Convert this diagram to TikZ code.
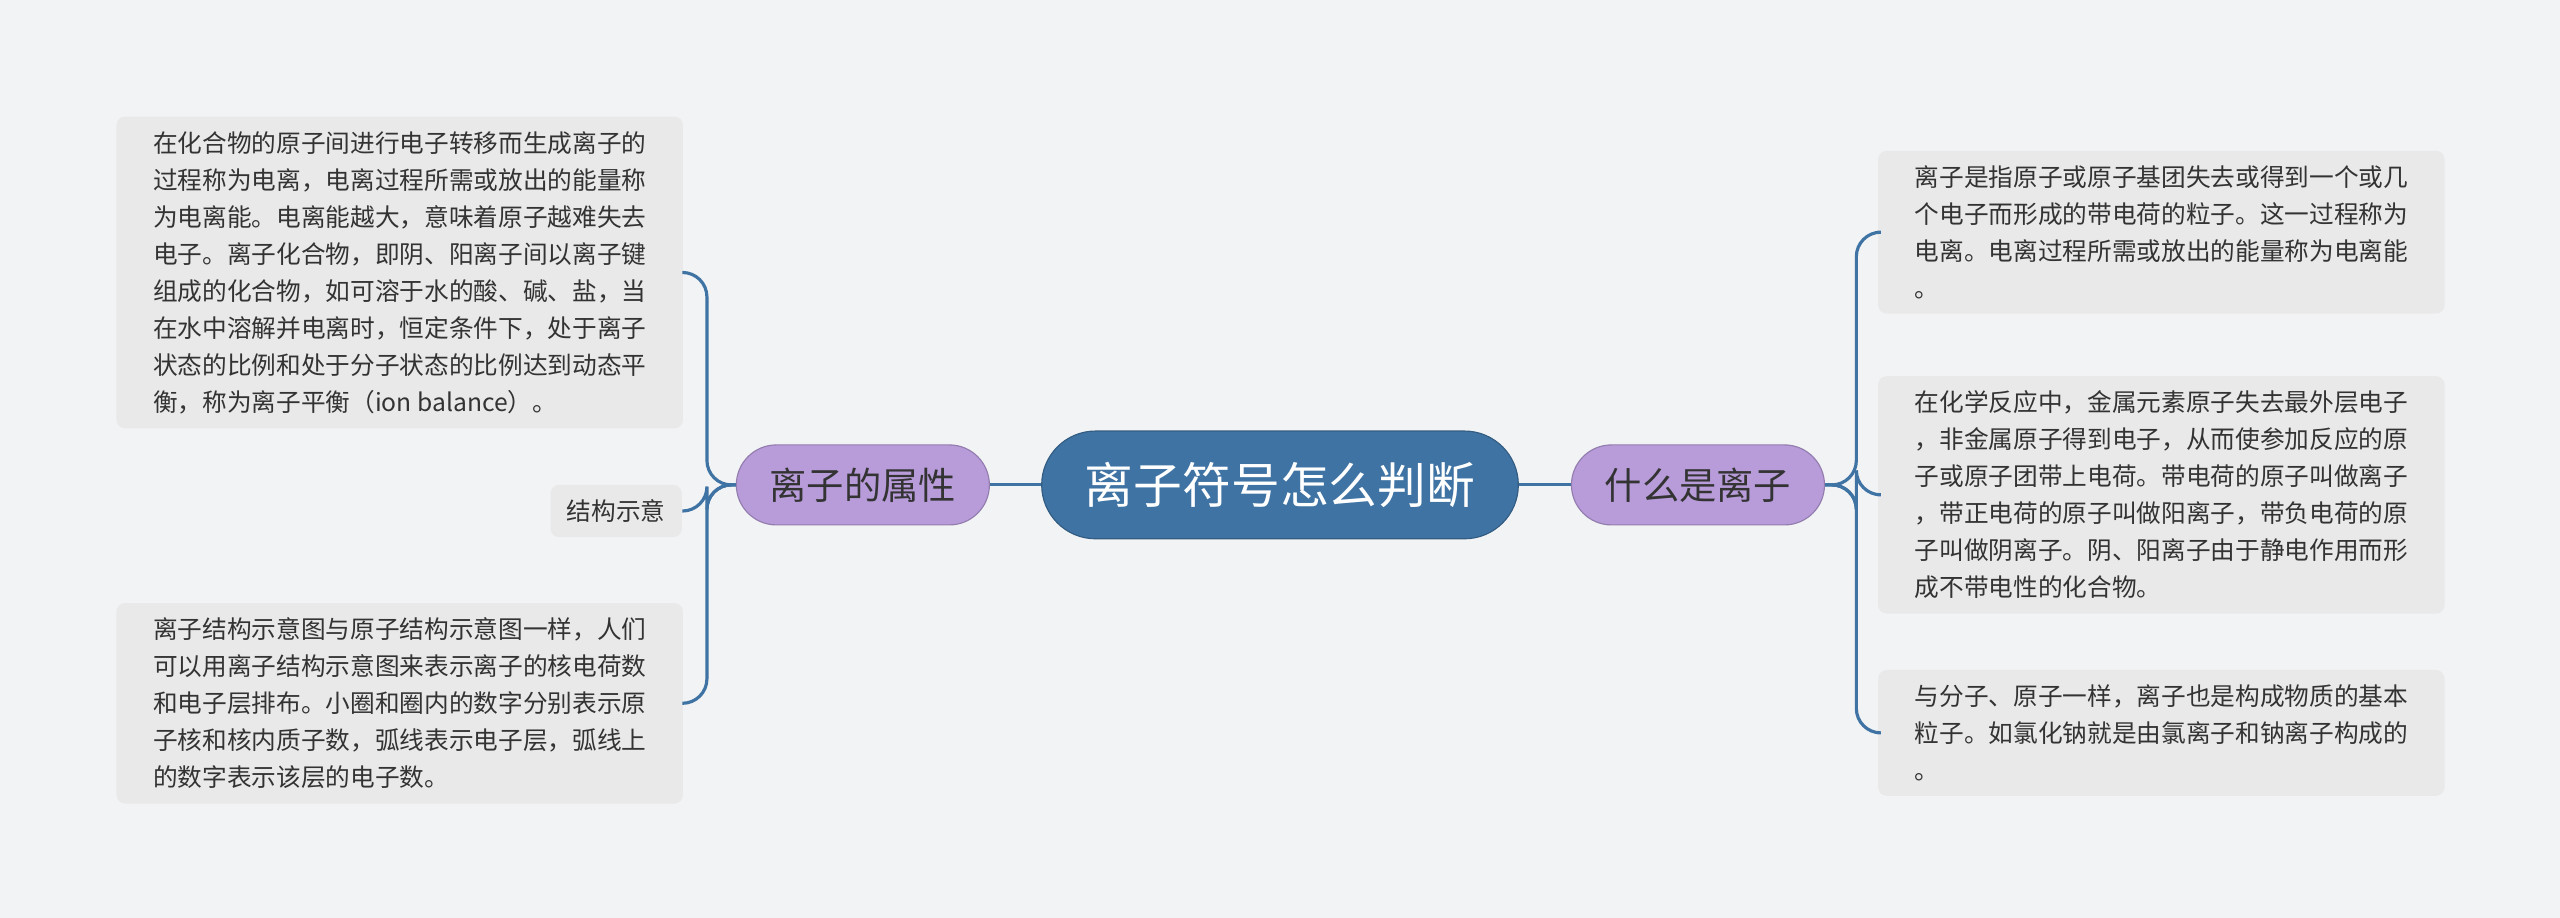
\documentclass[tikz,border=0pt]{standalone}
\usepackage{fontspec}
\newfontfamily\cjk{Noto Sans CJK SC}
\usetikzlibrary{positioning}
\definecolor{bgc}{HTML}{F2F3F5}
\definecolor{mainc}{HTML}{3F73A3}
\definecolor{subc}{HTML}{B89CDA}
\definecolor{leafc}{HTML}{E9E9EA}
\definecolor{txtc}{HTML}{333333}
\tikzset{
  root/.style={rounded corners=0.66cm, fill=mainc, draw=mainc!80!black, minimum width=5.84cm, minimum height=1.32cm, text=white, font=\cjk\fontsize{17}{20}\selectfont},
  topic/.style={rounded corners=0.49cm, fill=subc, draw=subc!80!black, minimum width=3.1cm, minimum height=0.98cm, text=txtc, font=\cjk\fontsize{13}{16}\selectfont},
  leaf/.style={rounded corners=3pt, fill=leafc, text=txtc, align=left, inner xsep=0.2cm, inner ysep=0.18cm, font=\cjk\fontsize{8.6}{12.9}\selectfont, anchor=north west},
  link/.style={mainc, line width=1.1pt, rounded corners=0.3cm}
}
\begin{document}
\begin{tikzpicture}[x=0.02cm, y=-0.02cm]
\fill[bgc] (0,0) rectangle (1568,562);
% centre and topics
\node[root] (root) at (784,297) {离子符号怎么判断};
\node[topic] (attr) at (528.5,297) {离子的属性};
\node[topic] (what) at (1040,297) {什么是离子};
\draw[link] (root) -- (attr);
\draw[link] (root) -- (what);
% right leaves
\node[leaf, minimum width=6.94cm] (r1) at (1150,92) {离子是指原子或原子基团失去或得到一个或几\\个电子而形成的带电荷的粒子。这一过程称为\\电离。电离过程所需或放出的能量称为电离能\\。};
\node[leaf, minimum width=6.94cm] (r2) at (1150,230) {在化学反应中，金属元素原子失去最外层电子\\，非金属原子得到电子，从而使参加反应的原\\子或原子团带上电荷。带电荷的原子叫做离子\\，带正电荷的原子叫做阳离子，带负电荷的原\\子叫做阴离子。阴、阳离子由于静电作用而形\\成不带电性的化合物。};
\node[leaf, minimum width=6.94cm] (r3) at (1150,410) {与分子、原子一样，离子也是构成物质的基本\\粒子。如氯化钠就是由氯离子和钠离子构成的\\。};
% left leaves
\node[leaf, minimum width=6.94cm] (l1) at (71,71) {在化合物的原子间进行电子转移而生成离子的\\过程称为电离，电离过程所需或放出的能量称\\为电离能。电离能越大，意味着原子越难失去\\电子。离子化合物，即阴、阳离子间以离子键\\组成的化合物，如可溶于水的酸、碱、盐，当\\在水中溶解并电离时，恒定条件下，处于离子\\状态的比例和处于分子状态的比例达到动态平\\衡，称为离子平衡（ion balance）。};
\node[leaf, anchor=east] (l2) at (418,313) {结构示意};
\node[leaf, minimum width=6.94cm] (l3) at (71,369) {离子结构示意图与原子结构示意图一样，人们\\可以用离子结构示意图来表示离子的核电荷数\\和电子层排布。小圈和圈内的数字分别表示原\\子核和核内质子数，弧线表示电子层，弧线上\\的数字表示该层的电子数。};
% brackets
\foreach \n in {r1,r2,r3} \draw[link] (what.east) -- (1137,297) |- (\n.west);
\foreach \n in {l1,l2,l3} \draw[link] (attr.west) -- (433,297) |- (\n.east);
\end{tikzpicture}
\end{document}
